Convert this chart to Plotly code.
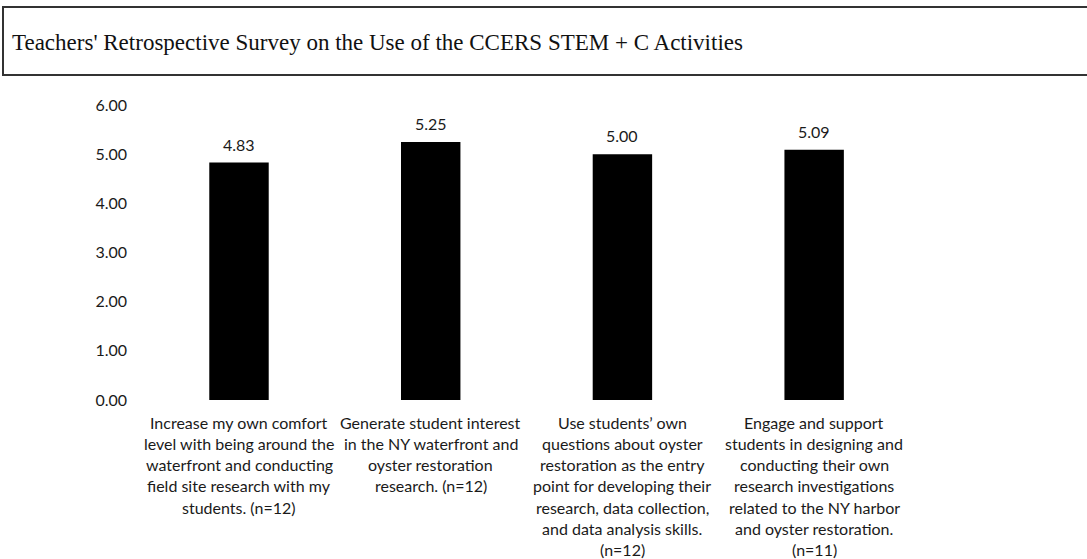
import plotly.graph_objects as go

# ---- data ----
categories = ["A", "B", "C", "D"]
values = [4.83, 5.25, 5.00, 5.09]
label_lines = [
    ["Increase my own comfort", "level with being around the", "waterfront and conducting",
     "field site research with my", "students. (n=12)"],
    ["Generate student interest", "in the NY waterfront and", "oyster restoration",
     "research. (n=12)"],
    ["Use students\u2019 own", "questions about oyster", "restoration as the entry",
     "point for developing their", "research, data collection,", "and data analysis skills.", "(n=12)"],
    ["Engage and support", "students in designing and", "conducting their own",
     "research investigations", "related to the NY harbor", "and oyster restoration.", "(n=11)"],
]
y_ticks = [0, 1, 2, 3, 4, 5, 6]
y_tick_text = [f"{v:.2f}" for v in y_ticks]
title_text = "Teachers' Retrospective Survey on the Use of the CCERS STEM + C Activities"

W, H = 1087, 559
L, R, T, B = 142, 177, 105, 159
FONT = "Lato"
FS = 16

fig = go.Figure()
fig.add_trace(go.Bar(
    x=categories, y=values, width=0.31,
    marker=dict(color="#000000", line=dict(width=0)),
    hoverinfo="skip",
))

annotations = []
for c, v in zip(categories, values):
    annotations.append(dict(
        x=c, y=v, xref="x", yref="y", text=f"{v:.2f}", showarrow=False,
        yanchor="bottom", yshift=7, font=dict(family=FONT, size=FS, color="#1a1a1a"),
    ))
for c, lines in zip(categories, label_lines):
    for i, line in enumerate(lines):
        annotations.append(dict(
            x=c, y=0, xref="x", yref="y", text=line, showarrow=False,
            yanchor="middle", yshift=-22 - 21.3 * i,
            font=dict(family=FONT, size=FS, color="#1a1a1a"),
        ))

pw = W - L - R
ph = H - T - B
def px_x(p):
    return (p - L) / pw
def px_y(p):
    return (H - B - p) / ph

fig.add_shape(type="rect", xref="paper", yref="paper",
              x0=px_x(3), x1=px_x(1095), y0=px_y(75), y1=px_y(7),
              line=dict(color="#333333", width=2), fillcolor="rgba(0,0,0,0)")

fig.update_layout(
    width=W, height=H,
    margin=dict(l=L, r=R, t=T, b=B),
    paper_bgcolor="white", plot_bgcolor="white",
    showlegend=False,
    bargap=0.69,
    title=dict(text=title_text, xref="container", yref="container",
               x=12 / W, y=1 - 42 / H, xanchor="left", yanchor="middle",
               font=dict(family="Liberation Serif", size=23, color="#111111")),
    xaxis=dict(showticklabels=False, showline=False, showgrid=False, zeroline=False,
               ticks=""),
    yaxis=dict(range=[0, 6], tickvals=y_ticks, ticktext=y_tick_text,
               showline=False, showgrid=False, zeroline=False, ticks="",
               ticklabelstandoff=14,
               tickfont=dict(family=FONT, size=FS, color="#1a1a1a")),
    annotations=annotations,
)

fig.write_html("out.html")
